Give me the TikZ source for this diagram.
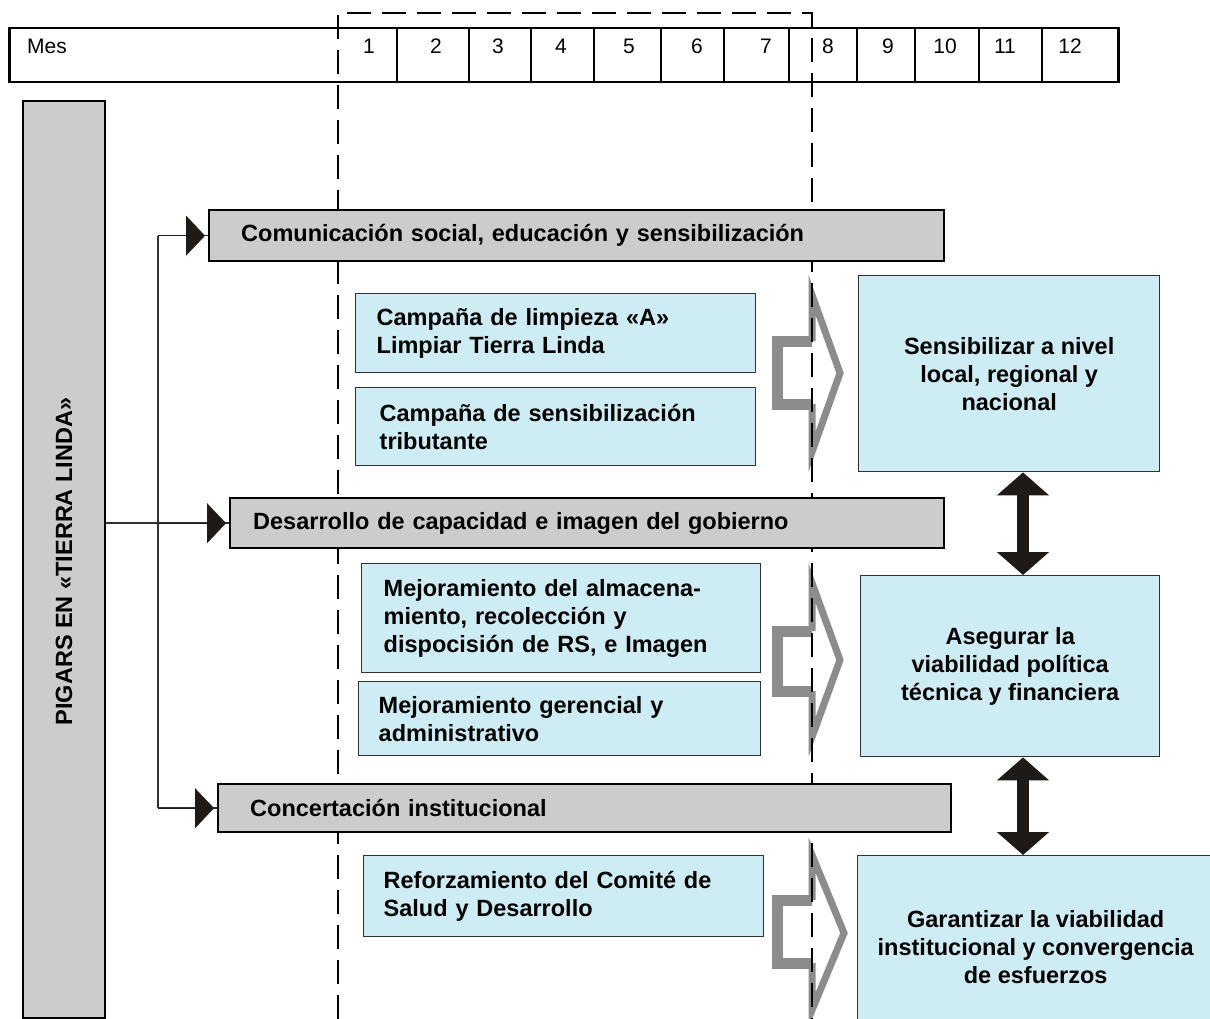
\documentclass[tikz,border=0pt]{standalone}
\usepackage{fontspec}
\setmainfont{Liberation Sans}
\usetikzlibrary{arrows.meta,calc}
\definecolor{barGray}{RGB}{204,204,204}
\definecolor{lightBlue}{RGB}{205,236,243}
\definecolor{arrGray}{RGB}{140,140,140}
\definecolor{darkArr}{RGB}{30,26,23}
\definecolor{connCol}{RGB}{50,50,50}
\begin{document}
\begin{tikzpicture}[x=1pt,y=-1pt,
  bigtxt/.style={font=\fontsize{23.5}{28}\selectfont\bfseries},
  hdr/.style={font=\fontsize{21}{24}\selectfont, inner sep=0pt},
  graybar/.style={draw=black, line width=2.4pt, fill=barGray, anchor=north west, inner ysep=0pt, align=left, bigtxt},
  bluebox/.style={draw=connCol, line width=1.4pt, fill=lightBlue, anchor=north west, inner ysep=0pt, align=left, bigtxt},
  goalbox/.style={draw=connCol, line width=1.4pt, fill=lightBlue, anchor=north west, inner sep=0pt, align=center, bigtxt},
  dashline/.style={draw=black, line width=2.3pt, dash pattern=on 24pt off 11pt},
  conn/.style={draw=connCol, line width=1.5pt},
  tri/.style={-{Triangle[length=19pt,width=40pt]}, shorten >=3pt, darkArr},
  dbl/.style={draw=darkArr, line width=12pt, {Triangle[length=23pt,width=51pt]}-{Triangle[length=23pt,width=51pt]}},
  garrow/.style={draw=arrGray, line width=7pt, line join=miter},
  gshaft/.style={draw=arrGray, line width=11pt},
]
\useasboundingbox (0,0) rectangle (1210,1019);
\clip (0,0) rectangle (1210,1019);
\fill[white] (0,0) rectangle (1210,1019);

% header table
\node[draw=black, line width=2.5pt, fill=white, anchor=north west, inner sep=0pt,
      minimum width=1109pt, minimum height=54pt] (mes) at (8,27) {};
\foreach \x in {397,469,531,594,661,724,789,857,915,979,1042}
  \draw[line width=1.1pt] (\x,27) -- (\x,81);
\node[hdr, anchor=west] (meslbl) at (27,46) {Mes};
\foreach \n/\x in {1/369,2/436,3/498,4/561,5/629,6/697,7/766,8/828,9/888,10/945,11/1005,12/1070}
  \node[hdr] (h\n) at (\x,46) {\n};

% gray open arrows (behind dashed lines)
\draw[garrow] (812,341) -- (812,295) -- (840,373) -- (812,452) -- (812,404);
\draw[gshaft] (812,341) -- (777,341) -- (777,404) -- (812,404);
\draw[garrow] (812,631) -- (812,583) -- (840,660) -- (812,737) -- (812,691);
\draw[gshaft] (812,631) -- (777,631) -- (777,691) -- (812,691);
\draw[garrow] (812,900) -- (812,855) -- (844,933) -- (812,1010) -- (812,963);
\draw[gshaft] (812,900) -- (777,900) -- (777,963) -- (812,963);

% dashed frame
\coordinate (dl) at (338,1019);
\coordinate (dr) at (812,1019);
\draw[dashline] (dl) -- (338,13) -- (812,13) -- (dr);

% left bar
\node[draw=black, line width=2pt, fill=barGray, anchor=north west, inner sep=0pt,
      minimum width=82pt, minimum height=917pt] (pig) at (22,100) {};
\node[bigtxt, rotate=90] (pigtxt) at ($(pig.center)+(0,2)$) {PIGARS EN «TIERRA LINDA»};

% gray bars
\node[graybar, inner xsep=32pt, text width=671pt, minimum height=51pt] (g1) at (208,209)
  {Comunicación social, educación y sensibilización};
\node[graybar, inner xsep=23pt, text width=668pt, minimum height=50pt] (g2) at (229,497)
  {Desarrollo de capacidad e imagen del gobierno};
\node[graybar, inner xsep=32pt, text width=669pt, minimum height=48pt] (g3) at (217,783)
  {Concertación institucional};

% blue activity boxes
\node[bluebox, inner xsep=21pt, text width=358pt, minimum height=79pt] (bA) at (355,293)
  {Campaña de limpieza «A»\\Limpiar Tierra Linda};
\node[bluebox, inner xsep=24pt, text width=352pt, minimum height=78pt] (bB) at (355,387)
  {Campaña de sensibilización\\tributante};
\node[bluebox, inner xsep=22pt, text width=355pt, minimum height=109pt] (bC) at (361,563)
  {Mejoramiento del almacena-\\miento, recolección y\\dispocisión de RS, e Imagen};
\node[bluebox, inner xsep=20pt, text width=362pt, minimum height=74pt] (bD) at (358,681)
  {Mejoramiento gerencial y\\administrativo};
\node[bluebox, inner xsep=20pt, text width=360pt, minimum height=81pt] (bE) at (363,855)
  {Reforzamiento del Comité de\\Salud y Desarrollo};

% goal boxes
\node[goalbox, minimum width=301pt, minimum height=196pt] (r1) at (858,275)
  {Sensibilizar a nivel\\local, regional y\\nacional};
\node[goalbox, minimum width=299pt, minimum height=181pt] (r2) at (860,575)
  {Asegurar la\\viabilidad política\\técnica y financiera};
\node[goalbox, minimum width=356pt, minimum height=182pt] (r3) at (857,855)
  {Garantizar la viabilidad\\institucional y convergencia\\de esfuerzos};

% double arrows
\coordinate (ax) at (1023,0);
\draw[dbl] (r1.south -| ax) -- (r2.north -| ax);
\draw[dbl] (r2.south -| ax) -- (r3.north -| ax);

% connectors
\coordinate (vt) at (158,0);
\draw[conn] (pig.east |- g2.west) -- (g2.west);
\draw[conn] (vt |- g1.west) -- (vt |- g3.west);
\draw[conn] (vt |- g1.west) -- (g1.west);
\draw[conn] (vt |- g3.west) -- (g3.west);
\draw[tri] (vt |- g1.west) -- (g1.west);
\draw[tri] (vt |- g2.west) -- (g2.west);
\draw[tri] (vt |- g3.west) -- (g3.west);
\end{tikzpicture}
\end{document}
